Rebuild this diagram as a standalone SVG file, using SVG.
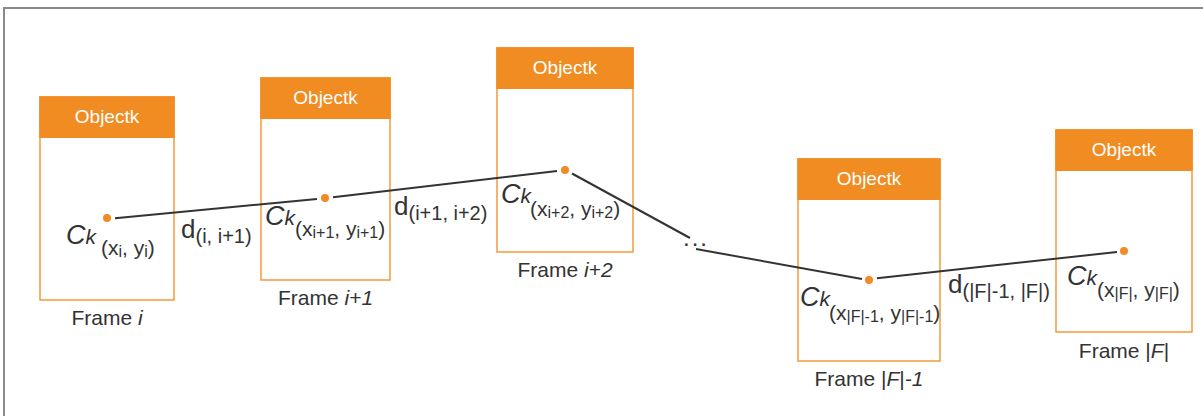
<svg xmlns="http://www.w3.org/2000/svg" width="1203" height="416" viewBox="0 0 1203 416">
  <style>
    text { font-family: "Liberation Sans", Arial, sans-serif; fill: #333333; }
    .frame { fill: #ffffff; stroke: #F39A3E; stroke-width: 1.5; }
    .head { fill: #F08C22; }
    .title { font-size: 19px; fill: #ffffff; text-anchor: middle; }
    .caption { font-size: 21px; text-anchor: middle; }
    .dot { fill: #F08C22; }
    .C { font-size: 27px; font-style: italic; }
    .k { font-size: 21px; font-style: italic; }
    .m { font-size: 21px; }
    .s { font-size: 16px; }
    .dm { font-size: 20px; }
    .d { font-size: 26px; }
    .link { stroke: #333333; stroke-width: 2; fill: none; }
  </style>

  <!-- outer frame edges -->
  <path d="M4 416 V8 H1203" fill="none" stroke="#8a8a8a" stroke-width="2"/>

  <g id="frame-i">
    <rect class="frame" x="40" y="97" width="134" height="203"/>
    <rect class="head" x="39.25" y="96.25" width="135.5" height="41.75"/>
    <text class="title" x="107" y="123">Objectk</text>
    <text x="66" y="244"><tspan class="C">C</tspan><tspan class="k">k</tspan><tspan class="m" x="101" y="255">(x</tspan><tspan class="s" dy="2">i</tspan><tspan class="m" dy="-2">, y</tspan><tspan class="s" dy="2">i</tspan><tspan class="m" dy="-2">)</tspan></text>
    <text class="caption" x="107" y="325">Frame <tspan font-style="italic">i</tspan></text>
  </g>

  <g id="frame-i1">
    <rect class="frame" x="261" y="78" width="129" height="202"/>
    <rect class="head" x="260.25" y="77.25" width="130.5" height="41.75"/>
    <text class="title" x="325.5" y="104">Objectk</text>
    <text x="265" y="225"><tspan class="C">C</tspan><tspan class="k">k</tspan><tspan class="m" x="295" y="236">(x</tspan><tspan class="s" dy="2">i+1</tspan><tspan class="m" dy="-2">, y</tspan><tspan class="s" dy="2">i+1</tspan><tspan class="m" dy="-2">)</tspan></text>
    <text class="caption" x="325.5" y="305">Frame <tspan font-style="italic">i+1</tspan></text>
  </g>

  <g id="frame-i2">
    <rect class="frame" x="497" y="48" width="136" height="204"/>
    <rect class="head" x="496.25" y="47.25" width="137.5" height="41.75"/>
    <text class="title" x="565" y="74">Objectk</text>
    <text x="501" y="203"><tspan class="C">C</tspan><tspan class="k">k</tspan><tspan class="m" x="530" y="216">(x</tspan><tspan class="s" dy="2">i+2</tspan><tspan class="m" dy="-2">, y</tspan><tspan class="s" dy="2">i+2</tspan><tspan class="m" dy="-2">)</tspan></text>
    <text class="caption" x="565" y="277">Frame <tspan font-style="italic">i+2</tspan></text>
  </g>

  <g id="frame-f1">
    <rect class="frame" x="798" y="159" width="142" height="202"/>
    <rect class="head" x="797.25" y="158.25" width="143.5" height="41.75"/>
    <text class="title" x="869" y="185">Objectk</text>
    <text x="800" y="306"><tspan class="C">C</tspan><tspan class="k">k</tspan><tspan class="m" x="829" y="320">(x</tspan><tspan class="s" dy="2">|F|-1</tspan><tspan class="m" dy="-2">, y</tspan><tspan class="s" dy="2">|F|-1</tspan><tspan class="m" dy="-2">)</tspan></text>
    <text class="caption" x="869" y="386">Frame |<tspan font-style="italic">F</tspan>|<tspan font-style="italic">-1</tspan></text>
  </g>

  <g id="frame-f">
    <rect class="frame" x="1056" y="130" width="136" height="202"/>
    <rect class="head" x="1055.25" y="129.25" width="137.5" height="41.75"/>
    <text class="title" x="1124" y="156">Objectk</text>
    <text x="1067" y="285"><tspan class="C">C</tspan><tspan class="k">k</tspan><tspan class="m" x="1097" y="297">(x</tspan><tspan class="s" dy="2">|F|</tspan><tspan class="m" dy="-2">, y</tspan><tspan class="s" dy="2">|F|</tspan><tspan class="m" dy="-2">)</tspan></text>
    <text class="caption" x="1124" y="358">Frame |<tspan font-style="italic">F</tspan>|</text>
  </g>

  <!-- trajectory of the object centre across frames, drawn over the frames -->
  <g id="connectors">
    <line class="link" x1="115" y1="218.3" x2="317" y2="199"/>
    <line class="link" x1="333" y1="197.3" x2="557" y2="171"/>
    <line class="link" x1="572" y1="173.5" x2="690" y2="238"/>
    <line class="link" x1="696" y1="249" x2="862" y2="279"/>
    <line class="link" x1="877" y1="278.3" x2="1117" y2="252"/>
    <circle class="dot" cx="107" cy="218" r="4"/>
    <circle class="dot" cx="325" cy="198" r="4"/>
    <circle class="dot" cx="565" cy="170" r="4"/>
    <circle class="dot" cx="869" cy="280" r="4"/>
    <circle class="dot" cx="1124" cy="251" r="4"/>
    <text x="683" y="246" style="font-size:24px" letter-spacing="2">...</text>
    <text x="181" y="238"><tspan class="d">d</tspan><tspan class="dm" dy="5">(i, i+1)</tspan></text>
    <text x="394" y="215"><tspan class="d">d</tspan><tspan class="dm" dy="5">(i+1, i+2)</tspan></text>
    <text x="948" y="293"><tspan class="d">d</tspan><tspan class="dm" dy="5">(|F|-1, |F|)</tspan></text>
  </g>
</svg>
